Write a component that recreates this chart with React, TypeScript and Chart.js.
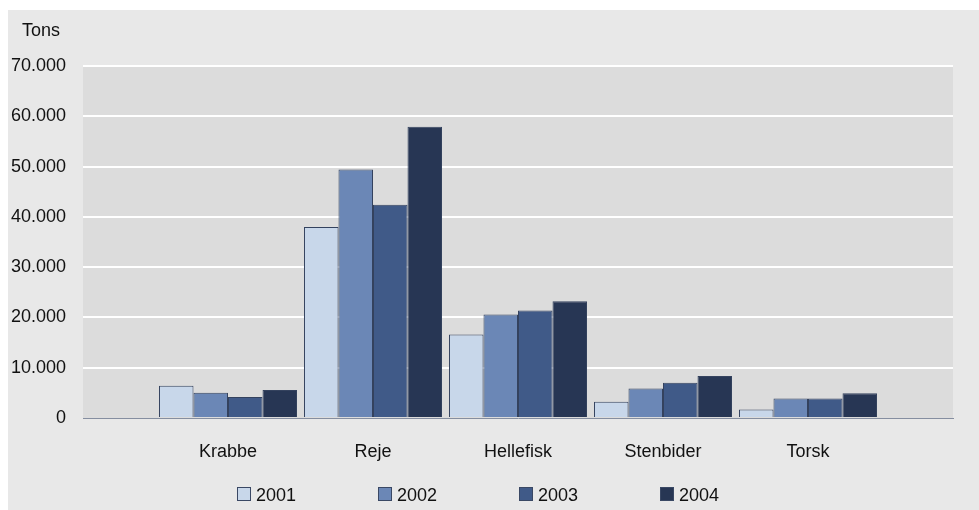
import React, { useEffect, useRef } from "react";
import { Chart, registerables } from "chart.js";

Chart.register(...registerables);

const categories = ["Krabbe", "Reje", "Hellefisk", "Stenbider", "Torsk"];
const years = ["2001", "2002", "2003", "2004"];
const v2001 = [6400, 38000, 16600, 3250, 1700];
const v2002 = [5000, 49400, 20600, 5850, 3900];
const v2003 = [4200, 42400, 21400, 7000, 3900];
const v2004 = [5550, 57900, 23200, 8350, 4900];
const colors = ["#c8d7ea", "#6b87b6", "#405a88", "#273654"];
const yMax = 70000;
const yStep = 10000;
const unitLabel = "Tons";

const FONT = "'Liberation Sans', Arial, sans-serif";

function fmt(v: number): string {
  return String(Math.round(v)).replace(/\B(?=(\d{3})+(?!\d))/g, ".");
}

export default function App() {
  const ref = useRef<HTMLCanvasElement | null>(null);
  useEffect(() => {
    if (!ref.current) return;
    const series = [v2001, v2002, v2003, v2004];
    const labels = ["", ...categories, ""];
    const bgPlugin = {
      id: "bgPlugin",
      beforeDraw(chart: any) {
        const { ctx, chartArea } = chart;
        ctx.save();
        ctx.fillStyle = "#dcdcdc";
        ctx.fillRect(chartArea.left, chartArea.top, chartArea.right - chartArea.left, chartArea.bottom - chartArea.top);
        ctx.restore();
      },
      afterDraw(chart: any) {
        const { ctx } = chart;
        ctx.save();
        ctx.font = `18px ${FONT}`;
        ctx.fillStyle = "#111111";
        ctx.textBaseline = "alphabetic";
        ctx.textAlign = "left";
        ctx.fillText(unitLabel, 14, 26);
        chart.data.datasets.forEach((ds: any, i: number) => {
          const x = 229 + i * 141;
          const y = 477;
          ctx.fillStyle = ds.backgroundColor;
          ctx.fillRect(x, y, 13, 13);
          ctx.strokeStyle = "#3a4864";
          ctx.lineWidth = 1;
          ctx.strokeRect(x + 0.5, y + 0.5, 13, 13);
          ctx.fillStyle = "#111111";
          ctx.fillText(ds.label, x + 19, 490.5);
        });
        ctx.restore();
      },
    };
    const chart = new Chart(ref.current, {
      type: "bar",
      data: {
        labels,
        datasets: years.map((y, i) => ({
          label: y,
          data: [null, ...series[i], null],
          backgroundColor: colors[i],
          borderColor: "#34425e",
          borderWidth: 1,
          categoryPercentage: 0.952,
          barPercentage: 1,
        })),
      },
      options: {
        animation: false,
        responsive: true,
        maintainAspectRatio: false,
        layout: { padding: { top: 56, right: 26, left: 0, bottom: 0 } },
        plugins: {
          legend: { display: false },
          title: { display: false },
          tooltip: { enabled: false },
        },
        scales: {
          x: {
            offset: false,
            grid: { display: false, drawTicks: false },
            border: { display: true, color: "#858ea0", width: 1 },
            ticks: {
              padding: 23,
              color: "#111111",
              font: { family: FONT, size: 18 },
              maxRotation: 0,
              autoSkip: false,
            },
            afterFit(scale: any) {
              scale.height = 92;
            },
          },
          y: {
            min: 0,
            max: yMax,
            ticks: {
              stepSize: yStep,
              padding: 17,
              color: "#111111",
              font: { family: FONT, size: 18 },
              callback: (v: any) => fmt(Number(v)),
            },
            grid: {
              drawTicks: false,
              lineWidth: 2,
              color: (c: any) => (c.tick && c.tick.value === 0 ? "rgba(0,0,0,0)" : "#ffffff"),
            },
            border: { display: false },
            afterFit(scale: any) {
              scale.width = 75;
            },
          },
        },
      },
      plugins: [bgPlugin],
    });
    return () => chart.destroy();
  }, []);
  return (
    <div
      style={{
        position: "absolute",
        left: 8,
        top: 10,
        width: 971,
        height: 500,
        background: "#e8e8e8",
      }}
    >
      <canvas ref={ref} />
    </div>
  );
}
